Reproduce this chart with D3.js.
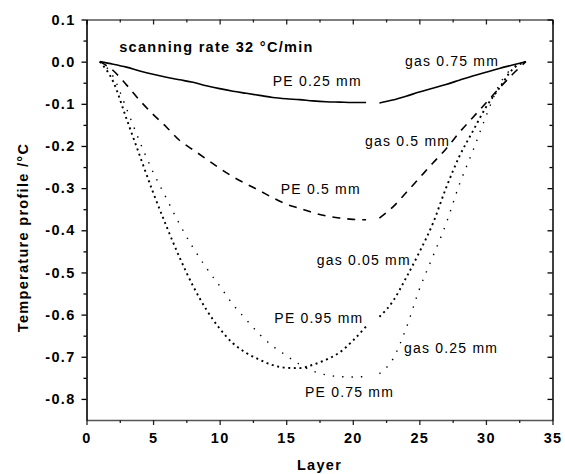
<!DOCTYPE html>
<html><head><meta charset="utf-8">
<script src="https://cdn.jsdelivr.net/npm/d3@7"></script>
<style>
html,body{margin:0;padding:0;background:#fff;}
svg{display:block;}
text{font-family:"Liberation Sans",Arial,Helvetica,sans-serif;}
</style></head><body>
<svg id="chart" width="565" height="474"></svg>
<script>
// ---- data ----
const layersPE  = [1,2,3,4,5,6,7,8,9,10,11,12,13,14,15,16,17,18,19,20,21];
const layersGas = [22,23,24,25,26,27,28,29,30,31,32,33];

// PE 0.25 mm / gas 0.75 mm (solid)
const pe025  = [0,-0.006,-0.013,-0.022,-0.030,-0.037,-0.043,-0.049,-0.057,-0.064,-0.070,-0.075,-0.080,-0.085,-0.088,-0.090,-0.093,-0.095,-0.096,-0.097,-0.097];
const gas075 = [-0.098,-0.091,-0.082,-0.072,-0.063,-0.054,-0.044,-0.034,-0.025,-0.016,-0.008,0];
// PE 0.5 mm / gas 0.5 mm (dashed)
const pe05   = [0,-0.021,-0.055,-0.092,-0.125,-0.155,-0.187,-0.209,-0.231,-0.253,-0.273,-0.290,-0.306,-0.323,-0.338,-0.348,-0.358,-0.366,-0.371,-0.374,-0.375];
const gas05  = [-0.371,-0.345,-0.311,-0.276,-0.241,-0.207,-0.168,-0.133,-0.098,-0.063,-0.030,0];
// PE 0.95 mm / gas 0.05 mm (short dots)
const pe095  = [0,-0.047,-0.135,-0.223,-0.310,-0.390,-0.465,-0.532,-0.588,-0.633,-0.668,-0.691,-0.707,-0.720,-0.726,-0.727,-0.719,-0.707,-0.690,-0.662,-0.628];
const gas005 = [-0.605,-0.569,-0.513,-0.452,-0.385,-0.300,-0.225,-0.166,-0.108,-0.063,-0.018,0];
// PE 0.75 mm / gas 0.25 mm (sparse dots)
const pe075  = [0,-0.035,-0.111,-0.190,-0.262,-0.324,-0.386,-0.441,-0.489,-0.532,-0.576,-0.612,-0.647,-0.675,-0.697,-0.718,-0.734,-0.743,-0.747,-0.748,-0.747];
const gas025 = [-0.740,-0.706,-0.633,-0.540,-0.463,-0.385,-0.292,-0.213,-0.130,-0.055,-0.015,0];

const xMajor = [0,5,10,15,20,25,30,35];
const xTickLabels = ["0","5","10","15","20","25","30","35"];
const xMinor = [2.5,7.5,12.5,17.5,22.5,27.5,32.5];
const yMajor = [0.1,0,-0.1,-0.2,-0.3,-0.4,-0.5,-0.6,-0.7,-0.8];
const yTickLabels = ["0.1","0.0","-0.1","-0.2","-0.3","-0.4","-0.5","-0.6","-0.7","-0.8"];
const yMinor = [0.05,-0.05,-0.15,-0.25,-0.35,-0.45,-0.55,-0.65,-0.75];

const labelTexts  = ["PE 0.25 mm","gas 0.75 mm","gas 0.5 mm","PE 0.5 mm","gas 0.05 mm","PE 0.95 mm","gas 0.25 mm","PE 0.75 mm"];
const labelLayer  = [13.99,23.92,20.92,14.59,17.29,14.11,23.85,16.41];
const labelValue  = [-0.058,-0.010,-0.200,-0.314,-0.482,-0.620,-0.690,-0.795];
const titleText = "scanning rate 32 °C/min";
const xTitle = "Layer";
const yTitle = "Temperature profile /°C";

// ---- chart ----
const svg = d3.select("#chart");
const x = d3.scaleLinear().domain([0,35]).range([86.5,552.5]);
const y = d3.scaleLinear().domain([0.1,-0.85]).range([19.5,420]);

const boldFont = g => g.selectAll("text")
  .attr("font-family","Liberation Sans, Arial, sans-serif")
  .attr("font-size","14.5px").attr("font-weight","bold")
  .attr("letter-spacing","1.3px").attr("fill","#000");

// bottom
const gB = svg.append("g").attr("transform",`translate(0,${y(-0.85)})`)
  .call(d3.axisBottom(x).tickValues(xMajor).tickSize(5).tickSizeOuter(0).tickPadding(8)
    .tickFormat((d,i)=>xTickLabels[i]));
gB.call(boldFont);
gB.select(".domain").attr("stroke","#555").attr("stroke-width",1.4);
gB.selectAll(".tick line").attr("stroke","#222").attr("stroke-width",1.3);
svg.append("g").attr("transform",`translate(0,${y(-0.85)})`)
  .call(d3.axisBottom(x).tickValues(xMinor).tickSize(3).tickSizeOuter(0).tickFormat(""))
  .call(g=>g.select(".domain").remove())
  .selectAll(".tick line").attr("stroke","#222").attr("stroke-width",1.3);

// top
const gT = svg.append("g").attr("transform",`translate(0,${y(0.1)})`)
  .call(d3.axisTop(x).tickValues(xMajor).tickSize(-5).tickSizeOuter(0).tickFormat(""));
gT.select(".domain").attr("stroke","#555").attr("stroke-width",1.4);
gT.selectAll(".tick line").attr("stroke","#222").attr("stroke-width",1.3);
svg.append("g").attr("transform",`translate(0,${y(0.1)})`)
  .call(d3.axisTop(x).tickValues(xMinor).tickSize(-3).tickSizeOuter(0).tickFormat(""))
  .call(g=>g.select(".domain").remove())
  .selectAll(".tick line").attr("stroke","#222").attr("stroke-width",1.3);

// left
const gL = svg.append("g").attr("transform",`translate(${x(0)},0)`)
  .call(d3.axisLeft(y).tickValues(yMajor).tickSize(5).tickSizeOuter(0).tickPadding(6)
    .tickFormat((d,i)=>yTickLabels[i]));
gL.call(boldFont);
gL.select(".domain").attr("stroke","#000").attr("stroke-width",1.6);
gL.selectAll(".tick line").attr("stroke","#000").attr("stroke-width",1.3);
svg.append("g").attr("transform",`translate(${x(0)},0)`)
  .call(d3.axisLeft(y).tickValues(yMinor).tickSize(3).tickSizeOuter(0).tickFormat(""))
  .call(g=>g.select(".domain").remove())
  .selectAll(".tick line").attr("stroke","#000").attr("stroke-width",1.3);

// right
const gR = svg.append("g").attr("transform",`translate(${x(35)},0)`)
  .call(d3.axisRight(y).tickValues(yMajor).tickSize(-5).tickSizeOuter(0).tickFormat(""));
gR.select(".domain").attr("stroke","#000").attr("stroke-width",1.5);
gR.selectAll(".tick line").attr("stroke","#000").attr("stroke-width",1.3);
svg.append("g").attr("transform",`translate(${x(35)},0)`)
  .call(d3.axisRight(y).tickValues(yMinor).tickSize(-3).tickSizeOuter(0).tickFormat(""))
  .call(g=>g.select(".domain").remove())
  .selectAll(".tick line").attr("stroke","#000").attr("stroke-width",1.3);

// lines
const line = d3.line().x(d=>x(d[0])).y(d=>y(d[1])).curve(d3.curveMonotoneX);
const zip = (xs,ys)=>xs.map((v,i)=>[v,ys[i]]);
const series = [
  {pe:pe025, gas:gas075, dash:null,     w:1.6},
  {pe:pe05,  gas:gas05,  dash:"8,7",    w:1.6},
  {pe:pe095, gas:gas005, dash:"2,3.6",  w:1.9},
  {pe:pe075, gas:gas025, dash:"1.4,8",  w:1.4}
];
series.forEach(s=>{
  [zip(layersPE,s.pe), zip(layersGas,s.gas)].forEach(pts=>{
    svg.append("path").datum(pts).attr("d",line)
      .attr("fill","none").attr("stroke","#000").attr("stroke-width",s.w)
      .attr("stroke-dasharray",s.dash);
  });
});

// annotations
svg.append("g").selectAll("text").data(labelTexts).join("text")
  .attr("x",(d,i)=>x(labelLayer[i])).attr("y",(d,i)=>y(labelValue[i]))
  .attr("font-size","14px").attr("letter-spacing","1.2px").attr("fill","#000")
  .text(d=>d);

svg.append("text").attr("x",x(2.46)).attr("y",y(0.0234))
  .attr("font-size","14.5px").attr("font-weight","bold").attr("letter-spacing","1.3px")
  .text(titleText);

svg.append("text").attr("x",(x(0)+x(35))/2).attr("y",469.5).attr("text-anchor","middle")
  .attr("font-size","14.5px").attr("font-weight","bold").attr("letter-spacing","1.3px")
  .text(xTitle);

svg.append("text").attr("transform",`translate(28,237.5) rotate(-90)`).attr("text-anchor","middle")
  .attr("font-size","14.5px").attr("font-weight","bold").attr("letter-spacing","1.3px")
  .text(yTitle);
</script>
</body></html>
